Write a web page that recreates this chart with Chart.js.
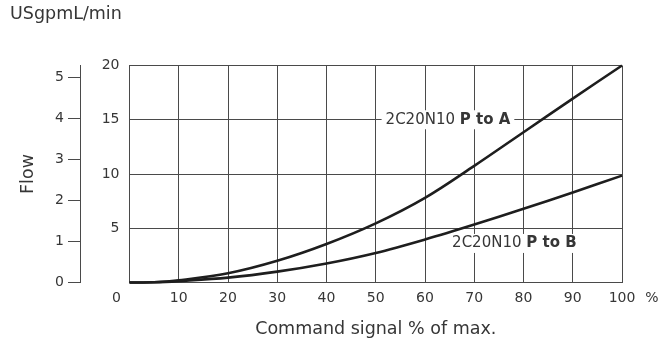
<!DOCTYPE html>
<html lang="en">
<head>
    <meta charset="UTF-8">
    <title>Flow vs command signal</title>
    <script src="https://cdn.jsdelivr.net/npm/chart.js"></script>
    <style>
        html, body { margin: 0; padding: 0; background: #fff; }
        .chart-container { width: 661px; height: 342px; }
    </style>
</head>
<body>
    <div class="chart-container">
        <canvas id="chartFlow"></canvas>
    </div>

    <script>
        // values
        const signal = [0, 5, 10, 20, 30, 40, 50, 60, 70, 80, 90, 100];
        const flowPtoA = [0, 0.02, 0.2, 0.85, 2.0, 3.55, 5.45, 7.8, 10.75, 13.85, 16.95, 20];
        const flowPtoB = [0, 0.02, 0.13, 0.45, 1.0, 1.75, 2.72, 3.96, 5.34, 6.8, 8.3, 9.85];
        const seriesNames = ['2C20N10', '2C20N10'];
        const seriesPorts = ['P to A', 'P to B'];

        const xTicks = [0, 10, 20, 30, 40, 50, 60, 70, 80, 90, 100];
        const lpmTicks = [5, 10, 15, 20];
        const gpmTicks = [0, 1, 2, 3, 4, 5];
        const LPM_PER_GPM = 3.785;

        const FONT = 'DejaVu Sans';
        const TEXT = '#363636';
        const GRID = '#4a4a4a';

        // where the curve names sit (data coords: % signal, L/min)
        const labelAnchors = [{ x: 52, y: 15 }, { x: 65.5, y: 3.6 }];

        const labelsPlugin = {
            id: 'labels',
            beforeDatasetsDraw(chart) {
                const ctx = chart.ctx;
                const xs = chart.scales.x, ys = chart.scales.y;
                ctx.save();
                ctx.textBaseline = 'middle';
                labelAnchors.forEach((a, i) => {
                    const px = xs.getPixelForValue(a.x);
                    const py = ys.getPixelForValue(a.y);
                    ctx.font = `15px "${FONT}"`;
                    const first = seriesNames[i] + ' ';
                    const w1 = ctx.measureText(first).width;
                    ctx.font = `bold 15px "${FONT}"`;
                    const w2 = ctx.measureText(seriesPorts[i]).width;
                    ctx.fillStyle = '#fff';
                    ctx.fillRect(px - 4, py - 9.5, w1 + w2 + 8, 19);
                    ctx.fillStyle = TEXT;
                    ctx.textAlign = 'left';
                    ctx.font = `15px "${FONT}"`;
                    ctx.fillText(first, px, py);
                    ctx.font = `bold 15px "${FONT}"`;
                    ctx.fillText(seriesPorts[i], px + w1, py);
                });
                ctx.restore();
            },
            afterDraw(chart) {
                const ctx = chart.ctx;
                const xs = chart.scales.x;
                ctx.save();
                ctx.font = `14px "${FONT}"`;
                ctx.fillStyle = TEXT;
                ctx.textAlign = 'center';
                ctx.textBaseline = 'middle';
                const ty = xs.top + 15.5;
                xTicks.forEach(v => {
                    let px = xs.getPixelForValue(v);
                    if (v === 0) px -= 13;
                    ctx.fillText(String(v), px, ty);
                });
                ctx.fillText('%', xs.right + 30, ty);
                ctx.restore();
            }
        };

        new Chart(document.getElementById('chartFlow'), {
            type: 'line',
            data: {
                datasets: [
                    {
                        label: seriesNames[0] + ' ' + seriesPorts[0],
                        data: signal.map((s, i) => ({ x: s, y: flowPtoA[i] })),
                    },
                    {
                        label: seriesNames[1] + ' ' + seriesPorts[1],
                        data: signal.map((s, i) => ({ x: s, y: flowPtoB[i] })),
                    }
                ].map(d => Object.assign(d, {
                    borderColor: '#1e1e1e',
                    borderWidth: 2.6,
                    pointRadius: 0,
                    tension: 0.35,
                    fill: false,
                    clip: 4
                }))
            },
            options: {
                responsive: true,
                maintainAspectRatio: false,
                animation: false,
                layout: { padding: { left: 10, right: 39, top: 0, bottom: 0 } },
                plugins: {
                    legend: { display: false },
                    tooltip: { enabled: false },
                    title: {
                        display: true,
                        text: 'USgpmL/min',
                        align: 'start',
                        color: TEXT,
                        font: { family: FONT, size: 17.5, weight: 'normal' },
                        padding: { top: 4, bottom: 40.5 }
                    }
                },
                scales: {
                    x: {
                        type: 'linear',
                        min: 0,
                        max: 100,
                        afterBuildTicks: s => { s.ticks = xTicks.map(v => ({ value: v })); },
                        afterFit: s => { s.height = 59.5; },
                        ticks: { display: false },
                        grid: { color: GRID, lineWidth: 1, drawTicks: false },
                        border: { color: GRID, width: 1 },
                        title: {
                            display: true,
                            text: 'Command signal % of max.',
                            color: TEXT,
                            font: { family: FONT, size: 17.5 },
                            padding: { top: 0, bottom: 2.5 }
                        }
                    },
                    y: {
                        min: 0,
                        max: 20,
                        weight: 0,
                        afterBuildTicks: s => { s.ticks = lpmTicks.map(v => ({ value: v })); },
                        afterFit: s => { s.width = 49.5; },
                        ticks: { color: TEXT, font: { family: FONT, size: 14 }, padding: 10 },
                        grid: { color: GRID, lineWidth: 1, drawTicks: false },
                        border: { color: GRID, width: 1 }
                    },
                    yg: {
                        position: 'left',
                        min: 0,
                        max: 20 / LPM_PER_GPM,
                        weight: 1,
                        afterBuildTicks: s => { s.ticks = gpmTicks.map(v => ({ value: v })); },
                        afterFit: s => { s.width = 70; },
                        ticks: { color: TEXT, font: { family: FONT, size: 14 }, padding: 4 },
                        grid: { drawOnChartArea: false, drawTicks: true, tickLength: 12, color: GRID, lineWidth: 1 },
                        border: { color: GRID, width: 1 },
                        title: {
                            display: true,
                            text: 'Flow',
                            color: TEXT,
                            font: { family: FONT, size: 17.5 },
                            padding: { top: 8, bottom: 0 }
                        }
                    }
                }
            },
            plugins: [labelsPlugin]
        });
    </script>
</body>
</html>
